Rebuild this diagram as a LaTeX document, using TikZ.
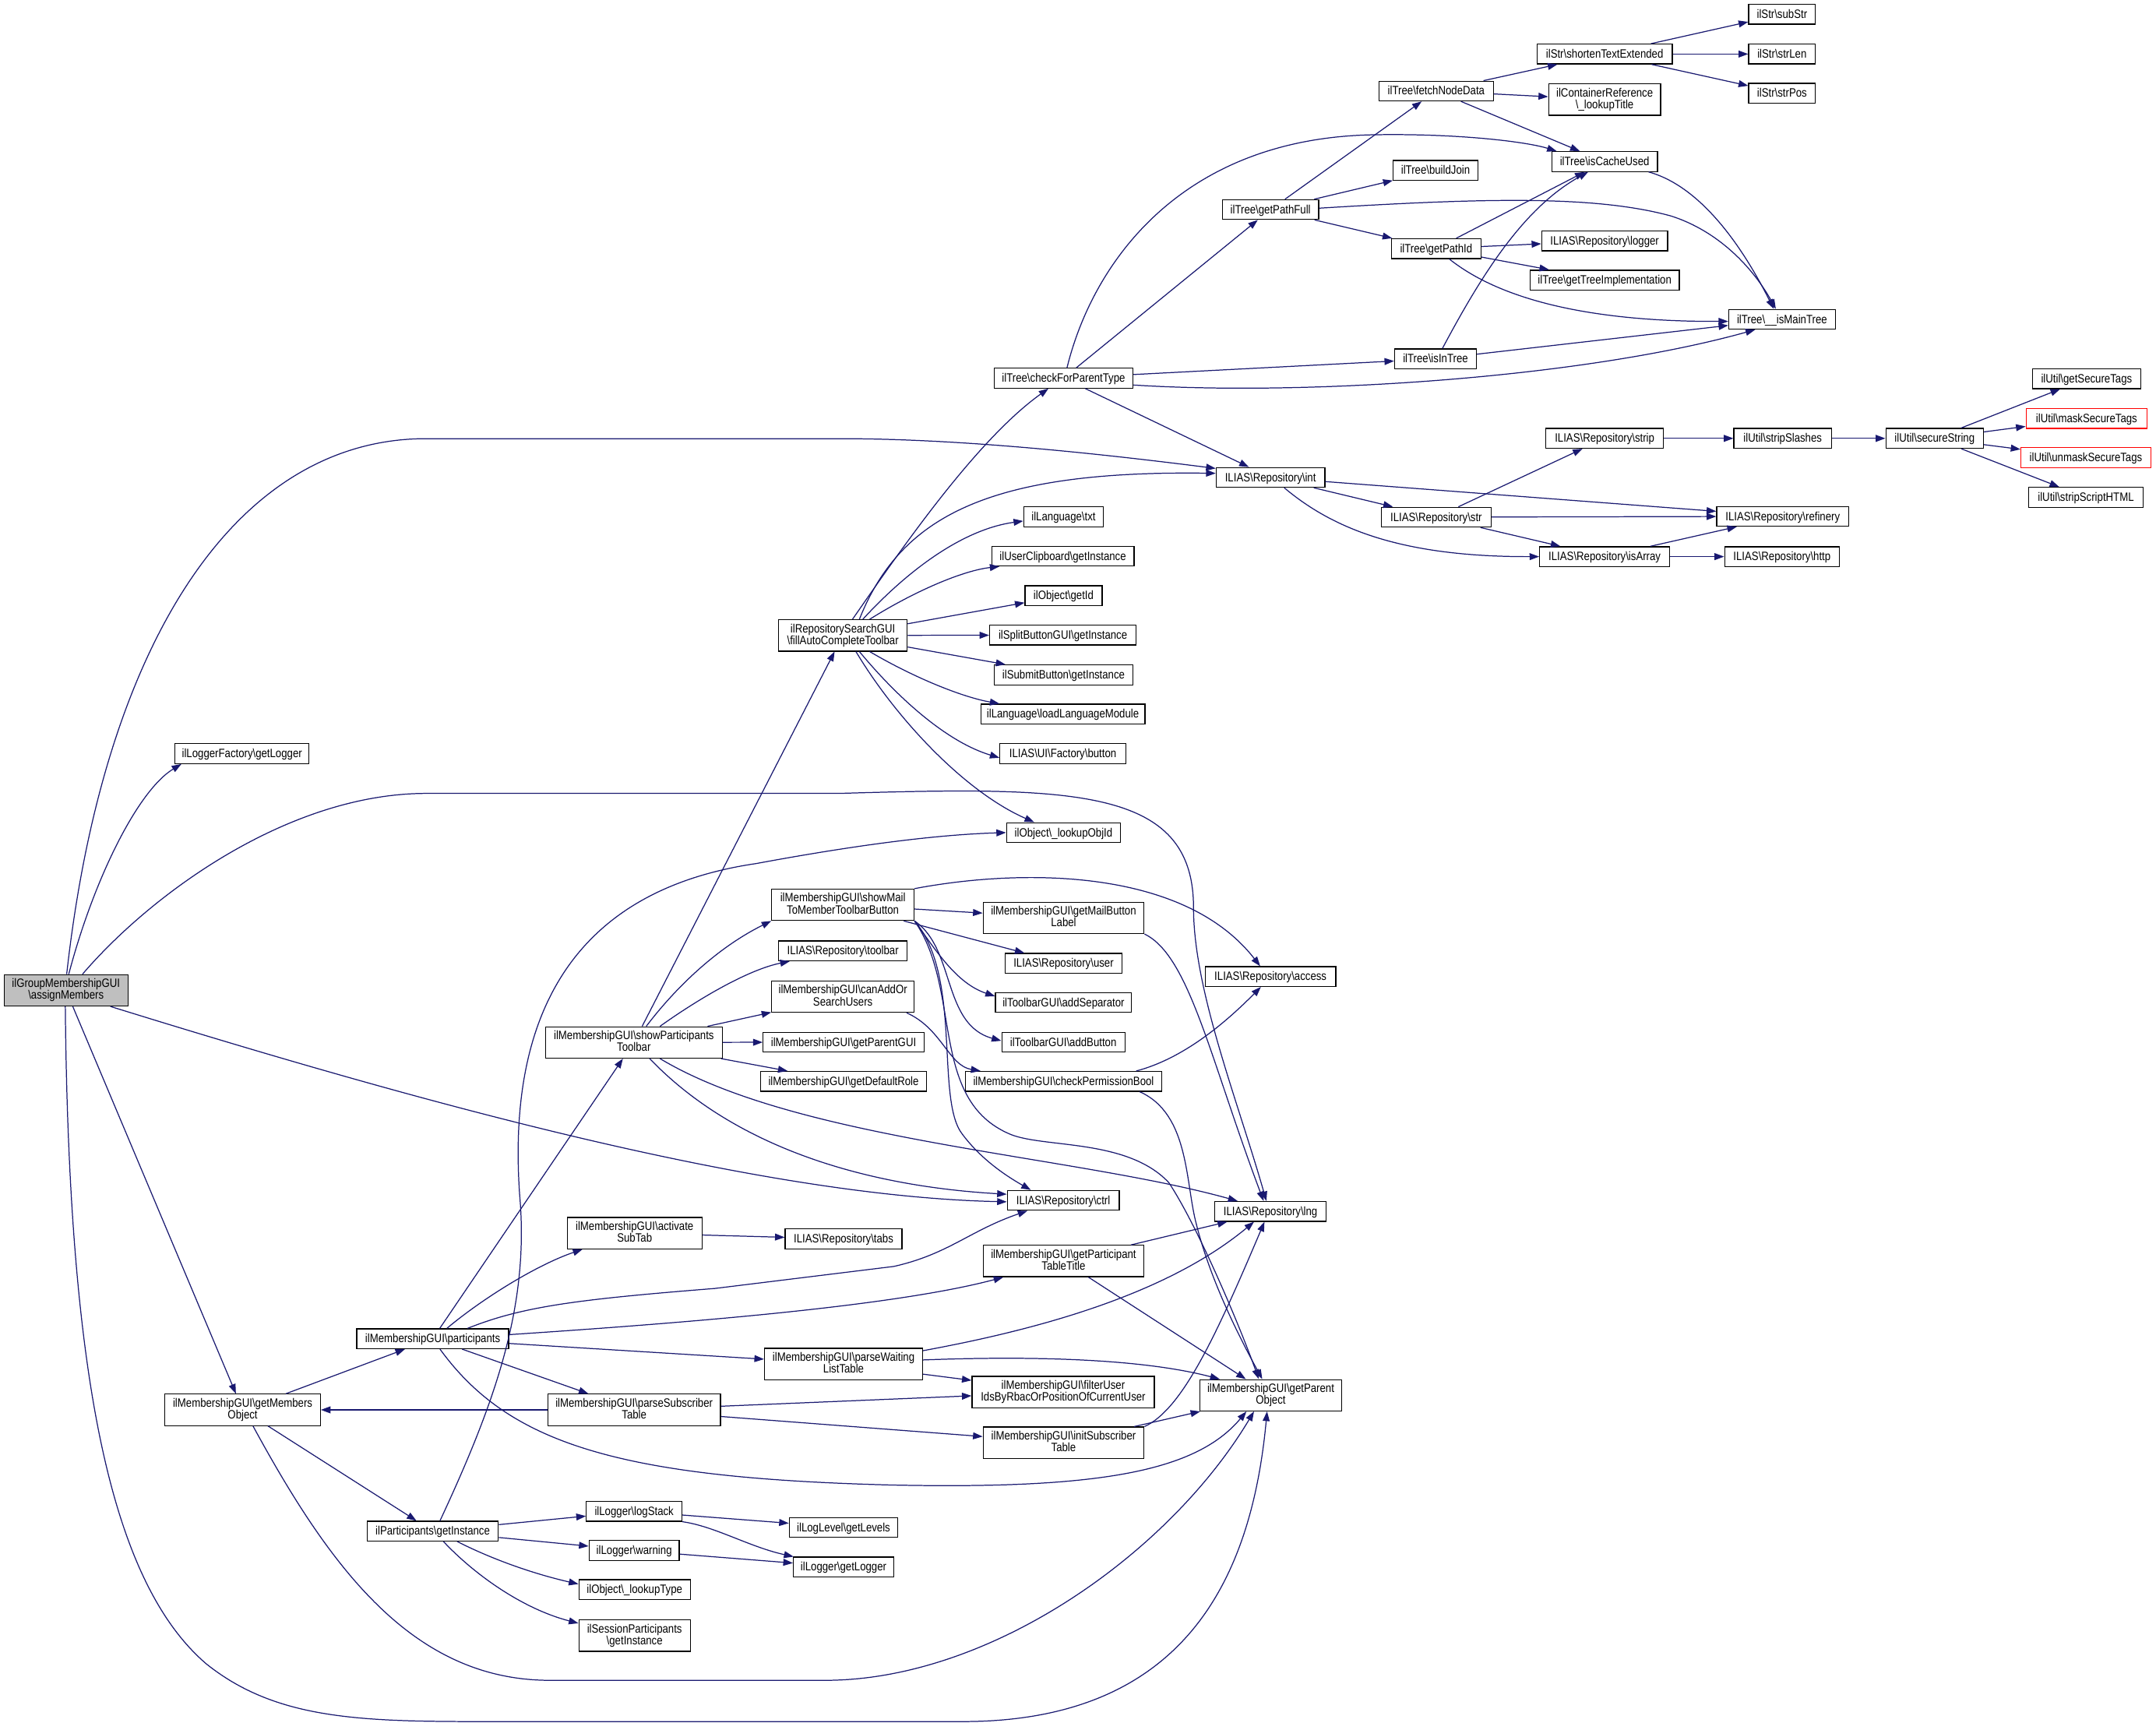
\documentclass[tikz,border=0pt]{standalone}
\usepackage{fontspec}
\usetikzlibrary{arrows.meta,calc}
\newfontfamily\nodefont{Liberation Sans}[FakeStretch=0.85]
\definecolor{edgecol}{HTML}{191970}
\definecolor{rootfill}{HTML}{BFBFBF}
\newcommand{\BSL}{\textbackslash}
\newcommand{\twol}[2]{#1\\#2\rule[-1.9pt]{0pt}{1pt}}
\tikzset{
  box/.style={draw=black, line width=0.7pt, fill=white, rectangle, inner xsep=1pt, inner ysep=0pt,
    minimum height=14.4pt, text height=7pt, text depth=1.2pt,
    font={\nodefont\fontsize{8.8pt}{8.6pt}\selectfont}},
  box2/.style={draw=black, line width=0.7pt, fill=white, rectangle, inner xsep=1pt, inner ysep=0pt,
    minimum height=22.8pt, align=center,
    font={\nodefont\fontsize{8.8pt}{8.6pt}\selectfont}},
  conn/.style={draw=edgecol, line width=0.7pt, -{Triangle[length=7pt,width=5pt]}},
}
\begin{document}
\begin{tikzpicture}[x=1pt,y=-1pt]
\useasboundingbox (0,0) rectangle (1568,1258);
% ---------------- nodes ----------------
\node[box2, fill=rootfill, minimum width=90pt] (A) at (48,720.2) {\twol{ilGroupMembershipGUI}{\BSL assignMembers}};
\node[box, minimum width=97.5pt] (LF) at (176,548.1) {ilLoggerFactory\BSL getLogger};
\node[box2, minimum width=113pt] (G) at (176.5,1025.3) {\twol{ilMembershipGUI\BSL getMembers}{Object}};
\node[box, minimum width=110.5pt] (P) at (314.7,973.6) {ilMembershipGUI\BSL participants};
\node[box, minimum width=95.5pt] (PI) at (314.7,1113.5) {ilParticipants\BSL getInstance};
\node[box2, minimum width=128.5pt] (S) at (461,758.1) {\twol{ilMembershipGUI\BSL showParticipants}{Toolbar}};
\node[box2, minimum width=98pt] (AS) at (461.5,896.8) {\twol{ilMembershipGUI\BSL activate}{SubTab}};
\node[box2, minimum width=115pt] (W) at (613.5,992) {\twol{ilMembershipGUI\BSL parseWaiting}{ListTable}};
\node[box2, minimum width=125.5pt] (PS) at (461.2,1025.3) {\twol{ilMembershipGUI\BSL parseSubscriber}{Table}};
\node[box, minimum width=69.5pt] (LS) at (461.2,1099.1) {ilLogger\BSL logStack};
\node[box, minimum width=65.5pt] (LW) at (461.2,1127.6) {ilLogger\BSL warning};
\node[box, minimum width=81pt] (LT) at (461.5,1156) {ilObject\BSL\_lookupType};
\node[box2, minimum width=81pt] (SP) at (461.5,1189.5) {\twol{ilSessionParticipants}{\BSL getInstance}};
\node[box2, minimum width=93.5pt] (F) at (613,462.1) {\twol{ilRepositorySearchGUI}{\BSL fillAutoCompleteToolbar}};
\node[box2, minimum width=103.5pt] (SM) at (613,658) {\twol{ilMembershipGUI\BSL showMail}{ToMemberToolbarButton}};
\node[box, minimum width=93.5pt] (TB) at (613,691.5) {ILIAS\BSL Repository\BSL toolbar};
\node[box2, minimum width=103.5pt] (CA) at (613,724.8) {\twol{ilMembershipGUI\BSL canAddOr}{SearchUsers}};
\node[box, minimum width=117pt] (PG) at (613.5,757.9) {ilMembershipGUI\BSL getParentGUI};
\node[box, minimum width=121pt] (DR) at (613.5,786.4) {ilMembershipGUI\BSL getDefaultRole};
\node[box, minimum width=85pt] (TABS) at (613.5,901) {ILIAS\BSL Repository\BSL tabs};
\node[box, minimum width=79pt] (LL) at (613.5,1110.8) {ilLogLevel\BSL getLevels};
\node[box, minimum width=73pt] (LG) at (613.5,1139.6) {ilLogger\BSL getLogger};
\node[box, minimum width=101pt] (CFT) at (773.5,275) {ilTree\BSL checkForParentType};
\node[box, minimum width=58pt] (TXT) at (773.5,375.9) {ilLanguage\BSL txt};
\node[box, minimum width=103.5pt] (UC) at (773,404.4) {ilUserClipboard\BSL getInstance};
\node[box, minimum width=56pt] (GID) at (773.5,433.2) {ilObject\BSL getId};
\node[box, minimum width=106.5pt] (SB) at (773,461.9) {ilSplitButtonGUI\BSL getInstance};
\node[box, minimum width=101pt] (SUB) at (773.5,490.8) {ilSubmitButton\BSL getInstance};
\node[box, minimum width=119.5pt] (LLM) at (773,519.3) {ilLanguage\BSL loadLanguageModule};
\node[box, minimum width=91.5pt] (UIB) at (773,548.1) {ILIAS\BSL UI\BSL Factory\BSL button};
\node[box, minimum width=83pt] (LO) at (773.5,605.5) {ilObject\BSL\_lookupObjId};
\node[box2, minimum width=117pt] (ML) at (773.5,667.5) {\twol{ilMembershipGUI\BSL getMailButton}{Label}};
\node[box, minimum width=85pt] (USR) at (773.5,700.6) {ILIAS\BSL Repository\BSL user};
\node[box, minimum width=99pt] (SEP) at (773.5,729) {ilToolbarGUI\BSL addSeparator};
\node[box, minimum width=89.5pt] (ADB) at (773.3,757.9) {ilToolbarGUI\BSL addButton};
\node[box, minimum width=143pt] (CP) at (773.5,786.4) {ilMembershipGUI\BSL checkPermissionBool};
\node[box, minimum width=81.5pt] (CTRL) at (773.3,873) {ILIAS\BSL Repository\BSL ctrl};
\node[box2, minimum width=117pt] (GT) at (773.5,917.1) {\twol{ilMembershipGUI\BSL getParticipant}{TableTitle}};
\node[box2, minimum width=132.5pt] (FU) at (773.2,1012.3) {\twol{ilMembershipGUI\BSL filterUser}{IdsByRbacOrPositionOfCurrentUser}};
\node[box2, minimum width=117pt] (IS) at (773.5,1049.2) {\twol{ilMembershipGUI\BSL initSubscriber}{Table}};
\node[box, minimum width=70pt] (GPF) at (924,152.4) {ilTree\BSL getPathFull};
\node[box, minimum width=79pt] (INT) at (924,347.2) {ILIAS\BSL Repository\BSL int};
\node[box, minimum width=95pt] (ACC) at (924,710.2) {ILIAS\BSL Repository\BSL access};
\node[box, minimum width=81pt] (LNG) at (924,881) {ILIAS\BSL Repository\BSL lng};
\node[box2, minimum width=103.5pt] (GPO) at (924.2,1014.7) {\twol{ilMembershipGUI\BSL getParent}{Object}};
\node[box, minimum width=83pt] (FND) at (1044.5,66.2) {ilTree\BSL fetchNodeData};
\node[box, minimum width=61.5pt] (BJ) at (1044,123.9) {ilTree\BSL buildJoin};
\node[box, minimum width=65pt] (GPI) at (1044.5,180.8) {ilTree\BSL getPathId};
\node[box, minimum width=59.5pt] (IIT) at (1044,261) {ilTree\BSL isInTree};
\node[box, minimum width=80pt] (STR) at (1044.5,376.1) {ILIAS\BSL Repository\BSL str};
\node[box, minimum width=98.5pt] (STE) at (1167,39.3) {ilStr\BSL shortenTextExtended};
\node[box2, minimum width=81.5pt] (CR) at (1167,72.4) {\twol{ilContainerReference}{\BSL\_lookupTitle}};
\node[box, minimum width=77pt] (ICU) at (1167,117.5) {ilTree\BSL isCacheUsed};
\node[box, minimum width=91.5pt] (LOG) at (1167,175.2) {ILIAS\BSL Repository\BSL logger};
\node[box, minimum width=108.5pt] (GTI) at (1167,203.7) {ilTree\BSL getTreeImplementation};
\node[box, minimum width=85.5pt] (STRIP) at (1167,318.8) {ILIAS\BSL Repository\BSL strip};
\node[box, minimum width=94.5pt] (ISA) at (1167,404.8) {ILIAS\BSL Repository\BSL isArray};
\node[box, minimum width=48.5pt] (SUBSTR) at (1296,10.4) {ilStr\BSL subStr};
\node[box, minimum width=48.5pt] (STRLEN) at (1296,39.3) {ilStr\BSL strLen};
\node[box, minimum width=48.5pt] (STRPOS) at (1296,67.8) {ilStr\BSL strPos};
\node[box, minimum width=77.5pt] (IMT) at (1296,232.2) {ilTree\BSL\_\_isMainTree};
\node[box, minimum width=71pt] (SS) at (1296.5,318.8) {ilUtil\BSL stripSlashes};
\node[box, minimum width=96pt] (REF) at (1296.5,375.5) {ILIAS\BSL Repository\BSL refinery};
\node[box, minimum width=83.5pt] (HTTP) at (1296,404.8) {ILIAS\BSL Repository\BSL http};
\node[box, minimum width=71pt] (SEC) at (1407,318.8) {ilUtil\BSL secureString};
\node[box, minimum width=79pt] (GST) at (1517.5,275.4) {ilUtil\BSL getSecureTags};
\node[box, draw=red, minimum width=88pt] (MST) at (1517.5,304.3) {ilUtil\BSL maskSecureTags};
\node[box, draw=red, minimum width=94.5pt] (UST) at (1517,332.8) {ilUtil\BSL unmaskSecureTags};
\node[box, minimum width=83.5pt] (SSH) at (1517,361.7) {ilUtil\BSL stripScriptHTML};
% ---------------- straight connectors ----------------
\foreach \a/\b in {STE/SUBSTR, STE/STRLEN, STE/STRPOS, FND/STE, FND/CR, FND/ICU, GPF/FND, GPF/BJ, GPF/GPI,
  GPI/ICU, GPI/LOG, GPI/GTI, IIT/IMT, CFT/GPF, CFT/IIT, CFT/INT, INT/STR, INT/REF, STR/STRIP, STR/REF,
  STR/ISA, ISA/REF, ISA/HTTP, STRIP/SS, SS/SEC, SEC/GST, SEC/MST, SEC/UST, SEC/SSH, F/GID, F/SB, F/SUB,
  S/F, A/G, G/P, G/PI, P/S, P/W, P/PS, PS/G, PS/FU, PS/IS, W/FU, GT/LNG, GT/GPO, IS/GPO, AS/TABS,
  S/CA, S/PG, S/DR, SM/ML, SM/USR, PI/LS, PI/LW, LS/LL, LW/LG}
  {\draw[conn] (\a) -- (\b);}
% ---------------- curved connectors ----------------
\draw[conn] ($(GPF.east)+(0,-1)$) .. controls (1080,144) and (1160,142) .. (1215,157) .. controls (1250,168) and (1275,195) .. ($(IMT.north)+(-4.5,0)$);
\draw[conn] ($(GPI.south)+(9.5,0)$) .. controls (1100,225) and (1180,234) .. ($(IMT.west)+(0,1.5)$);
\draw[conn] ($(IIT.north)+(5,0)$) .. controls (1080,195) and (1110,150) .. ($(ICU.south)+(-12,0)$);
\draw[conn] ($(ICU.south)+(32,0)$) .. controls (1235,135) and (1265,175) .. ($(IMT.north)+(-6,0)$);
\draw[conn] ($(CFT.north)+(2.5,0)$) .. controls (795,190) and (860,100) .. (1000,98) .. controls (1060,97) and (1110,103) .. ($(ICU.north west)+(4,0)$);
\draw[conn] ($(CFT.east)+(0,5)$) .. controls (950,288) and (1150,275) .. ($(IMT.south)+(-19.5,0)$);
\draw[conn] ($(INT.south)+(10,0)$) .. controls (970,385) and (1020,405) .. (ISA.west);
% fillAutoCompleteToolbar
\draw[conn] ($(F.north)+(7,0)$) .. controls (655,400) and (710,320) .. ($(CFT.south)+(-11,0)$);
\draw[conn] ($(F.north)+(12,0)$) .. controls (655,375) and (720,342) .. ($(INT.west)+(0,-3)$);
\draw[conn] ($(F.north)+(14.5,0)$) .. controls (660,415) and (700,385) .. ($(TXT.west)+(0,3)$);
\draw[conn] ($(F.north)+(19.5,0)$) .. controls (665,430) and (700,415) .. ($(UC.south west)+(6,0)$);
\draw[conn] ($(F.south)+(19.5,0)$) .. controls (665,493) and (700,507) .. ($(LLM.north west)+(14,0)$);
\draw[conn] ($(F.south)+(12,0)$) .. controls (655,510) and (690,540) .. ($(UIB.west)+(0,3)$);
\draw[conn] ($(F.south)+(9.5,0)$) .. controls (650,520) and (700,575) .. ($(LO.north west)+(20.5,0)$);
% assignMembers
\draw[conn] ($(A.north)+(2,0)$) .. controls (68,640) and (100,575) .. ($(LF.south west)+(5,0)$);
\draw[conn] ($(A.north)+(0.5,0)$) .. controls (75,470) and (170,319) .. (310,319) -- (610,319) .. controls (700,319) and (800,330) .. ($(INT.north west)+(0,1)$);
\draw[conn] ($(A.north)+(12,0)$) .. controls (110,650) and (210,577) .. (310,577) -- (610,577) .. controls (780,572) and (868,572) .. (868,660) .. controls (868,720) and (900,800) .. ($(LNG.north)+(-3,0)$);
\draw[conn] ($(A.south east)+(-13,0)$) .. controls (300,800) and (550,870) .. ($(CTRL.west)+(0,1)$);
\draw[conn] ($(A.south)+(-0.5,0)$) .. controls (50,1000) and (80,1150) .. (150,1210) .. controls (200,1250) and (260,1252) .. (350,1252) -- (700,1252) .. controls (860,1252) and (910,1150) .. ($(GPO.south)+(-2.7,0)$);
% getMembersObject
\draw[conn] ($(G.south)+(7.5,0)$) .. controls (240,1140) and (300,1222) .. (400,1222) -- (600,1222) .. controls (720,1222) and (850,1130) .. ($(GPO.south)+(-12.2,0)$);
% participants
\draw[conn] ($(P.north)+(10.3,0)$) .. controls (350,945) and (390,920) .. ($(AS.south west)+(11.5,0)$);
\draw[conn] ($(P.north)+(25.3,0)$) .. controls (380,950) and (420,945) .. (520,937) -- (650,921) .. controls (690,912) and (705,895) .. ($(CTRL.south west)+(15,0)$);
\draw[conn] ($(P.east)+(0,-3)$) .. controls (500,962) and (650,950) .. ($(GT.south west)+(15,0)$);
\draw[conn] ($(P.south)+(5.3,0)$) .. controls (370,1050) and (450,1075) .. (650,1080) .. controls (800,1083) and (870,1070) .. ($(GPO.south)+(-17.7,0)$);
% parseWaitingListTable
\draw[conn] ($(W.north east)+(0,2)$) .. controls (760,966) and (850,940) .. ($(LNG.south)+(-12,0)$);
\draw[conn] ($(W.east)+(0,-3)$) .. controls (750,986) and (830,988) .. ($(GPO.north west)+(15,0)$);
% initSubscriberTable
\draw[conn] (IS.north east) .. controls (860,1025) and (885,970) .. ($(LNG.south)+(-4.4,0)$);
% showParticipantsToolbar
\draw[conn] ($(S.north)+(9,0)$) .. controls (490,720) and (520,690) .. (SM.south west);
\draw[conn] ($(S.north)+(19,0)$) .. controls (510,725) and (545,705) .. ($(TB.south west)+(8.5,0)$);
\draw[conn] ($(S.south)+(11.5,0)$) .. controls (530,830) and (620,862) .. ($(CTRL.west)+(0,-4.5)$);
\draw[conn] ($(S.south)+(19,0)$) .. controls (580,830) and (780,840) .. ($(LNG.north west)+(17,0)$);
% showMailToMemberToolbarButton
\draw[conn] (SM.south east) .. controls (680,690) and (695,715) .. ($(SEP.west)+(0,-4.5)$);
\draw[conn] (SM.south east) .. controls (695,690) and (685,745) .. ($(ADB.west)+(0,-1)$);
\draw[conn] (SM.south east) .. controls (700,710) and (680,800) .. (700,825) .. controls (715,845) and (735,857) .. ($(CTRL.north west)+(17.5,0)$);
\draw[conn] (SM.south east) .. controls (700,720) and (675,800) .. (735,825) .. controls (760,835) and (820,828) .. (850,860) .. controls (870,890) and (900,960) .. ($(GPO.north)+(-8.7,0)$);
\draw[conn] (SM.north east) .. controls (740,632) and (860,630) .. ($(ACC.north)+(-7.5,0)$);
\draw[conn] (ML.south east) .. controls (865,695) and (880,770) .. ($(LNG.north)+(-5,0)$);
% canAddOrSearchUsers / checkPermissionBool
\draw[conn] ($(CA.south east)+(-5.75,0)$) .. controls (685,748) and (690,775) .. ($(CP.north west)+(11.5,0)$);
\draw[conn] ($(CP.north east)+(-19,0)$) .. controls (860,770) and (890,745) .. ($(ACC.south)+(-7,0)$);
\draw[conn] ($(CP.south east)+(-16.5,0)$) .. controls (865,810) and (862,860) .. (870,890) .. controls (880,930) and (900,970) .. ($(GPO.north)+(-6.2,0)$);
% ilParticipants::getInstance
\draw[conn] ($(PI.south)+(17.8,0)$) .. controls (360,1135) and (390,1145) .. ($(LT.west)+(0,-4)$);
\draw[conn] ($(PI.south)+(7.8,0)$) .. controls (345,1145) and (380,1170) .. ($(SP.west)+(0,-9)$);
\draw[conn] ($(PI.north)+(5.3,0)$) .. controls (360,1020) and (385,950) .. (378,870) .. controls (370,760) and (400,650) .. (550,628) .. controls (620,615) and (680,607) .. (LO.west);
% logStack
\draw[conn] (LS.south east) .. controls (520,1110) and (545,1125) .. ($(LG.north west)+(0.5,0)$);
\end{tikzpicture}
\end{document}
